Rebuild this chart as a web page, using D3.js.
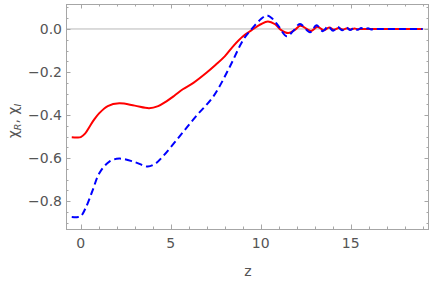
<!DOCTYPE html>
<html>
<head>
<meta charset="utf-8">
<script src="https://cdn.jsdelivr.net/npm/d3@7"></script>
<style>
  body { margin: 0; background: #fff; }
  text { font-family: "DejaVu Sans", sans-serif; fill: #555; }
</style>
</head>
<body>
<svg id="chart"></svg>
<script>
// Real part chi_R (solid red)
const zReal = [-0.5, -0.2, 0, 0.25, 0.48, 0.75, 1.03, 1.5, 2.14, 3.0, 3.8, 4.3, 4.74, 5.2, 5.67, 6.26, 7.0, 7.5, 8.0, 8.5, 9.0, 9.59, 10.0, 10.4,
  10.8, 11.1, 11.53, 11.9, 12.2, 12.8, 13.15, 13.5, 13.8, 14.07, 14.33, 14.57, 14.8, 15.0, 15.2, 15.4, 15.6, 16.5, 19.0];
const chiReal = [-0.503, -0.504, -0.502, -0.485, -0.455, -0.42, -0.391, -0.358, -0.345, -0.356, -0.368, -0.358, -0.337, -0.31, -0.28, -0.25, -0.202, -0.166, -0.127, -0.077, -0.035, 0.0, 0.022, 0.035,
  0.022, -0.003, -0.019, -0.004, 0.015, -0.009, 0.01, -0.006, 0.007, -0.004, 0.005, -0.003, 0.003, -0.002, 0.002, -0.001, 0.0, 0.0, 0.0];

// Imaginary part chi_I (dashed blue)
const zImag = [-0.5, -0.2, 0, 0.29, 0.67, 1.03, 1.59, 2.14, 3.0, 3.72, 4.15, 4.55, 5.48, 6.4, 7.37, 8.29, 9.03, 9.5, 10.0, 10.33,
  10.65, 11.0, 11.44, 11.8, 12.18, 12.74, 13.1, 13.45, 13.75, 14.02, 14.28, 14.52, 14.75, 14.97, 15.18, 15.38, 15.58, 15.77, 15.96, 16.14, 16.32, 16.5, 17.5, 19.0];
const chiImag = [-0.873, -0.874, -0.87, -0.828, -0.747, -0.67, -0.616, -0.602, -0.618, -0.639, -0.625, -0.593, -0.5, -0.406, -0.313, -0.174, -0.05, 0.0, 0.045, 0.063,
  0.048, 0.012, -0.034, -0.01, 0.023, -0.015, 0.017, -0.01, 0.012, -0.008, 0.009, -0.006, 0.007, -0.005, 0.005, -0.004, 0.004, -0.003, 0.003, -0.002, 0.002, 0.0, 0.0, 0.0];

const xTicks = [0, 5, 10, 15];
const yTicks = [-0.8, -0.6, -0.4, -0.2, 0.0];

const width = 436, height = 282;
const margin = {top: 4, right: 7, bottom: 53, left: 66};

const svg = d3.select("#chart").attr("width", width).attr("height", height);

const x = d3.scaleLinear().domain([-0.82, 19.35]).range([margin.left, width - margin.right]);
const y = d3.scaleLinear().domain([-0.929, 0.116]).range([height - margin.bottom, margin.top]);

const frameColor = "#a6a6a6";
const x0 = margin.left, x1 = width - margin.right;
const y0 = height - margin.bottom, y1 = margin.top;

// zero axis line
svg.append("line")
  .attr("x1", x0).attr("x2", x1)
  .attr("y1", y(0)).attr("y2", y(0))
  .attr("stroke", "#b8b8b8").attr("stroke-width", 1);

// tick marks on all four sides, pointing in
const xMinor = d3.range(0, 20, 1);
const yMinor = d3.range(-0.9, 0.101, 0.05).map(v => +v.toFixed(2));
const ticks = svg.append("g").attr("stroke", frameColor).attr("stroke-width", 1);

xMinor.forEach(v => {
  const len = xTicks.includes(v) ? 4.5 : 2.5;
  const px = Math.round(x(v)) + 0.5;
  ticks.append("line").attr("x1", px).attr("x2", px).attr("y1", y0).attr("y2", y0 - len);
  ticks.append("line").attr("x1", px).attr("x2", px).attr("y1", y1).attr("y2", y1 + len);
});
yMinor.forEach(v => {
  const major = yTicks.some(t => Math.abs(t - v) < 1e-6);
  const len = major ? 4.5 : 2.5;
  const py = Math.round(y(v)) + 0.5;
  ticks.append("line").attr("x1", x0).attr("x2", x0 + len).attr("y1", py).attr("y2", py);
  ticks.append("line").attr("x1", x1).attr("x2", x1 - len).attr("y1", py).attr("y2", py);
});

// frame
svg.append("rect")
  .attr("x", x0 + 0.5).attr("y", y1 + 0.5)
  .attr("width", x1 - x0 - 1).attr("height", y0 - y1)
  .attr("fill", "none").attr("stroke", frameColor).attr("stroke-width", 1);

// tick labels
svg.append("g").selectAll("text")
  .data(xTicks).enter().append("text")
  .attr("x", d => x(d)).attr("y", 248)
  .attr("text-anchor", "middle").attr("font-size", 14)
  .text(d => d);

svg.append("g").selectAll("text")
  .data(yTicks).enter().append("text")
  .attr("x", 62).attr("y", d => y(d) + 5)
  .attr("text-anchor", "end").attr("font-size", 14)
  .text(d => d3.format(".1f")(d).replace("-", "\u2212"));

// axis labels
svg.append("text")
  .attr("x", 248).attr("y", 276)
  .attr("text-anchor", "middle").attr("font-size", 14)
  .text("z");

const yl = svg.append("text")
  .attr("transform", "translate(18,121) rotate(-90)")
  .attr("text-anchor", "middle").attr("font-size", 14);
yl.append("tspan").text("\u03C7");
yl.append("tspan").attr("font-size", 9.5).attr("font-style", "italic").attr("dy", 3).text("R");
yl.append("tspan").attr("dy", -3).text(", \u03C7");
yl.append("tspan").attr("font-size", 9.5).attr("font-style", "italic").attr("dy", 3).text("I");

// curves
const line = d3.line()
  .x(d => x(d[0]))
  .y(d => y(d[1]))
  .curve(d3.curveCatmullRom.alpha(0.5));

svg.append("path")
  .datum(d3.zip(zReal, chiReal))
  .attr("d", line)
  .attr("fill", "none").attr("stroke", "#ff0000").attr("stroke-width", 2);

svg.append("path")
  .datum(d3.zip(zImag, chiImag))
  .attr("d", line)
  .attr("fill", "none").attr("stroke", "#0000ff").attr("stroke-width", 2)
  .attr("stroke-dasharray", "7,4");
</script>
</body>
</html>
